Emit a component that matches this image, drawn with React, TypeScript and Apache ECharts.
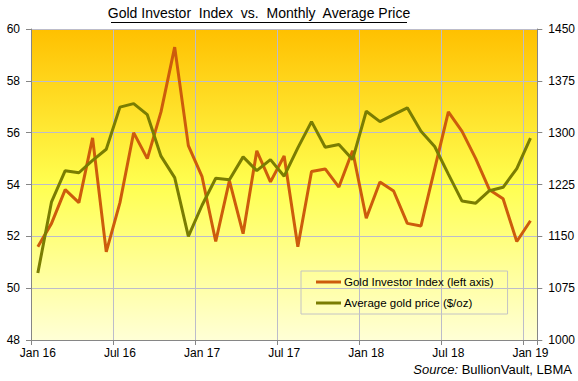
import React, { useEffect, useRef } from "react";
import * as echarts from "echarts";

const categories = [
  "Jan 16", "Feb 16", "Mar 16", "Apr 16", "May 16", "Jun 16", "Jul 16", "Aug 16", "Sep 16", "Oct 16", "Nov 16", "Dec 16",
  "Jan 17", "Feb 17", "Mar 17", "Apr 17", "May 17", "Jun 17", "Jul 17", "Aug 17", "Sep 17", "Oct 17", "Nov 17", "Dec 17",
  "Jan 18", "Feb 18", "Mar 18", "Apr 18", "May 18", "Jun 18", "Jul 18", "Aug 18", "Sep 18", "Oct 18", "Nov 18", "Dec 18",
  "Jan 19",
];

const investorIndex = [
  51.6, 52.5, 53.8, 53.3, 55.8, 51.4, 53.3, 56.0, 55.0, 56.8, 59.3, 55.5,
  54.3, 51.8, 54.15, 52.1, 55.3, 54.1, 55.1, 51.6, 54.5, 54.6, 53.9, 55.3,
  52.7, 54.1, 53.75, 52.5, 52.4, 54.6, 56.8, 56.05, 55.0, 53.8, 53.45, 51.8,
  52.6,
];

const goldPrice = [
  1097, 1200, 1245, 1242, 1260, 1276, 1337, 1342, 1326, 1266, 1235, 1150,
  1195, 1234, 1232, 1265, 1245, 1261, 1237, 1278, 1316, 1279, 1283, 1261,
  1331, 1316, 1326, 1336, 1302, 1280, 1240, 1201, 1198, 1216, 1221, 1248,
  1292,
];

const seriesNames = ["Gold Investor Index (left axis)", "Average gold price ($/oz)"];
const titleText = "Gold Investor  Index  vs.  Monthly  Average Price";

const FONT = "'Liberation Sans', Arial, sans-serif";

export default function App() {
  const ref = useRef<HTMLDivElement>(null);
  useEffect(() => {
    if (!ref.current) return;
    const chart = echarts.init(ref.current, undefined, { renderer: "svg" });
    const axisLineColor = "#868686";
    const gridColor = "#BCBCCA";
    chart.setOption({
      animation: false,
      backgroundColor: "#ffffff",
      textStyle: { fontFamily: FONT },
      grid: {
        left: 31,
        right: 40,
        top: 29,
        bottom: 41,
        show: true,
        borderWidth: 0,
        backgroundColor: new echarts.graphic.LinearGradient(0, 0, 0, 1, [
          { offset: 0, color: "#FFC000" },
          { offset: 0.5, color: "#FFFF50" },
          { offset: 1, color: "#FFFFD6" },
        ]),
      },
      legend: {
        orient: "vertical",
        left: 301,
        top: 271,
        padding: [5, 14, 5, 15],
        itemGap: 9,
        itemWidth: 25,
        itemHeight: 3,
        icon: "rect",
        borderColor: "#C4C4C4",
        borderWidth: 1,
        textStyle: { fontSize: 11.5, color: "#000", fontFamily: FONT, padding: [0, 0, 0, -2] },
        data: seriesNames,
      },
      xAxis: {
        type: "category",
        data: categories,
        boundaryGap: true,
        axisLine: { lineStyle: { color: axisLineColor, width: 1 } },
        axisTick: { show: true, interval: 5, length: 5, lineStyle: { color: axisLineColor } },
        axisLabel: { interval: 5, margin: 7, fontSize: 12, color: "#000", fontFamily: FONT },
        splitLine: { show: true, interval: 5, lineStyle: { color: gridColor, width: 1 } },
      },
      yAxis: [
        {
          type: "value",
          min: 48,
          max: 60,
          interval: 2,
          axisLine: { show: true, lineStyle: { color: axisLineColor } },
          axisTick: { show: true, length: 5, lineStyle: { color: axisLineColor } },
          axisLabel: { margin: 11, fontSize: 12, color: "#000", fontFamily: FONT },
          splitLine: { show: true, lineStyle: { color: gridColor, width: 1 } },
        },
        {
          type: "value",
          min: 1000,
          max: 1450,
          interval: 75,
          position: "right",
          axisLine: { show: true, lineStyle: { color: axisLineColor } },
          axisTick: { show: true, length: 5, lineStyle: { color: axisLineColor } },
          axisLabel: {
            margin: 11,
            fontSize: 12,
            color: "#000",
            fontFamily: FONT,
            formatter: (v: number) => String(v),
          },
          splitLine: { show: false },
        },
      ],
      series: [
        {
          name: seriesNames[0],
          type: "line",
          yAxisIndex: 0,
          data: investorIndex,
          showSymbol: false,
          symbol: "none",
          color: "#CD5C0C",
          lineStyle: { color: "#CD5C0C", width: 3 },
        },
        {
          name: seriesNames[1],
          type: "line",
          yAxisIndex: 1,
          data: goldPrice,
          showSymbol: false,
          symbol: "none",
          color: "#7A7D02",
          lineStyle: { color: "#7A7D02", width: 3 },
        },
      ],
      graphic: [
        {
          type: "text",
          x: 259,
          y: 6,
          style: {
            text: titleText,
            font: `14px ${FONT}`,
            fill: "#000",
            textAlign: "center",
          },
        },
        {
          type: "line",
          shape: { x1: 111, y1: 22.5, x2: 407, y2: 22.5 },
          style: { stroke: "#000", lineWidth: 1 },
        },
        {
          type: "text",
          right: 6,
          top: 363,
          style: {
            text: "{i|Source:} BullionVault, LBMA",
            font: `13px ${FONT}`,
            fill: "#000",
            rich: {
              i: { fontStyle: "italic", fontSize: 13, fontFamily: FONT, fill: "#000" },
            },
          },
        },
      ],
    });
    return () => chart.dispose();
  }, []);
  return (
    <div
      ref={ref}
      style={{ position: "fixed", left: 0, top: 0, width: 578, height: 381 }}
    />
  );
}
